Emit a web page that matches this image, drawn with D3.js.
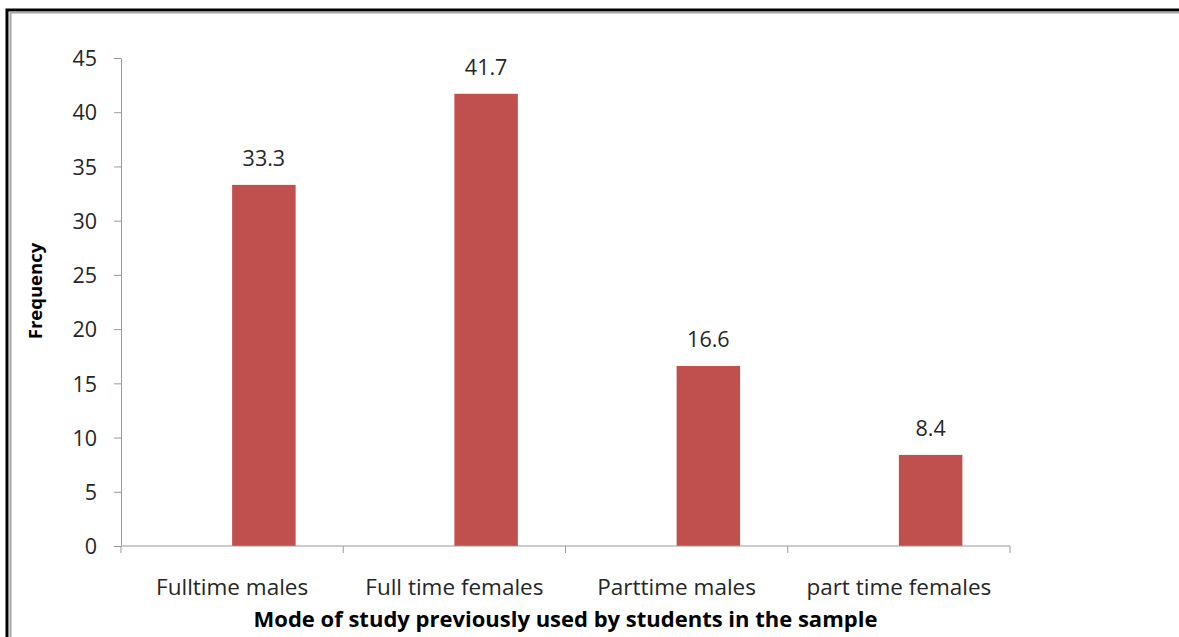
<!DOCTYPE html>
<html>
<head>
<meta charset="utf-8">
<script src="https://cdn.jsdelivr.net/npm/d3@7"></script>
<style>
  html, body { margin: 0; padding: 0; background: #fff; }
  svg { display: block; }
  text { font-family: "Open Sans", sans-serif; fill: #262626; }
</style>
</head>
<body>
<script>
// Mode of study previously used by students (frequency, %)
const categories = ["Fulltime males", "Full time females", "Parttime males", "part time females"];
const frequency = [33.3, 41.7, 16.6, 8.4];
const yTicks = [0, 5, 10, 15, 20, 25, 30, 35, 40, 45];

const W = 1179, H = 637;
const plot = { left: 121, right: 1010, top: 58, bottom: 546 };
const FONT = "\"Open Sans\", sans-serif";

const svg = d3.select("body").append("svg").attr("width", W).attr("height", H);

// frame: dark outer rule with a grey inner rule
svg.append("path").attr("d", `M7,${H} V10 H${W}`)
  .attr("fill", "none").attr("stroke", "#000").attr("stroke-width", 3);
svg.append("path").attr("d", `M10.5,${H} V12.5 H${W}`)
  .attr("fill", "none").attr("stroke", "#a6a6a6").attr("stroke-width", 2);

const x = d3.scaleBand().domain(categories).range([plot.left, plot.right]).padding(0);
const y = d3.scaleLinear().domain([0, 45]).range([plot.bottom, plot.top]);

// bar sits in the second of two cluster slots (gap width 150%)
const barW = x.bandwidth() / 3.5;
const barX = c => x(c) + x.bandwidth() / 2;

const axisColor = "#9a9a9a";

// y axis
const yAxis = svg.append("g").attr("transform", `translate(${plot.left},0)`)
  .call(d3.axisLeft(y).tickValues(yTicks).tickSize(7).tickPadding(17).tickSizeOuter(0));
yAxis.select(".domain").attr("stroke", axisColor);
yAxis.selectAll(".tick line").attr("stroke", axisColor);
yAxis.selectAll(".tick text").attr("font-size", 21.5).attr("fill", "#262626")
  .attr("font-family", FONT).attr("dy", "0.36em");

// bars
svg.append("g").selectAll("rect").data(categories).join("rect")
  .attr("x", c => barX(c))
  .attr("y", (c, i) => y(frequency[i]))
  .attr("width", barW)
  .attr("height", (c, i) => y(0) - y(frequency[i]))
  .attr("fill", "#c0504d");

// x axis
const xAxis = svg.append("g").attr("transform", `translate(0,${plot.bottom})`);
xAxis.append("line").attr("x1", plot.left).attr("x2", plot.right)
  .attr("y1", 0).attr("y2", 0).attr("stroke", axisColor);
const bounds = categories.map(c => x(c)).concat([plot.right]);
xAxis.selectAll("line.tk").data(bounds).join("line").attr("class", "tk")
  .attr("x1", d => d).attr("x2", d => d).attr("y1", 0).attr("y2", 7)
  .attr("stroke", axisColor);
xAxis.selectAll("text").data(categories).join("text")
  .attr("x", c => x(c) + x.bandwidth() / 2)
  .attr("y", 49)
  .attr("text-anchor", "middle")
  .attr("font-size", 22.5)
  .text(c => c);

// value labels
svg.append("g").selectAll("text").data(categories).join("text")
  .attr("x", c => barX(c) + barW / 2)
  .attr("y", (c, i) => y(frequency[i]) - 19)
  .attr("text-anchor", "middle")
  .attr("font-size", 21.5)
  .text((c, i) => frequency[i]);

// axis titles
svg.append("text")
  .attr("x", (plot.left + plot.right) / 2).attr("y", 627)
  .attr("text-anchor", "middle").attr("font-size", 22).attr("font-weight", "bold")
  .style("fill", "#000")
  .text("Mode of study previously used by students in the sample");

svg.append("text")
  .attr("transform", "translate(42,291) rotate(-90)")
  .attr("text-anchor", "middle").attr("font-size", 18.5).attr("font-weight", "bold")
  .style("fill", "#000")
  .text("Frequency");
</script>
</body>
</html>
